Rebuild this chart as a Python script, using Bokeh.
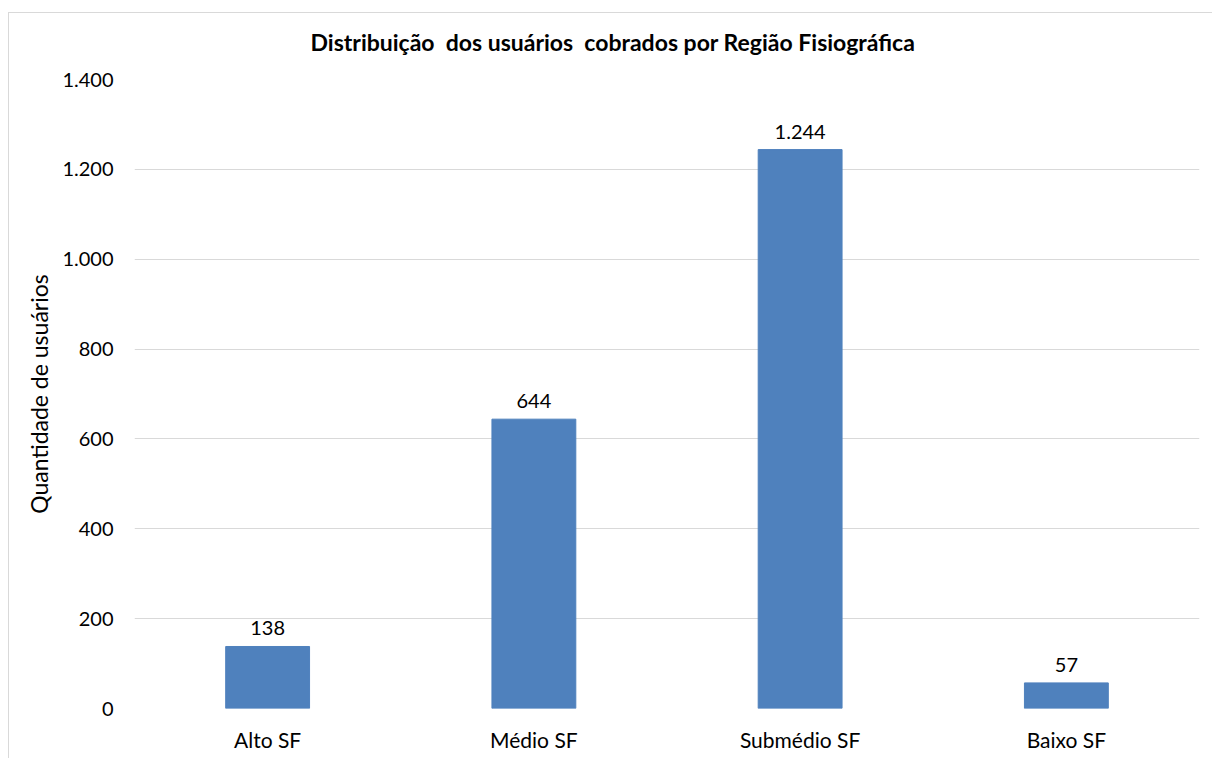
from bokeh.plotting import figure
from bokeh.models import ColumnDataSource, CustomJSTickFormatter, FixedTicker, Range1d, Title
from bokeh.embed import file_html
from bokeh.resources import INLINE

regions = ["Alto SF", "Médio SF", "Submédio SF", "Baixo SF"]
users = [138, 644, 1244, 57]
y_ticks = [0, 200, 400, 600, 800, 1000, 1200, 1400]

FONT = "Lato"
labels = [f"{v:,}".replace(",", ".") for v in users]
src = ColumnDataSource(dict(x=regions, top=users, label=labels))

NB = "\u00a0"
title_text = f"Distribuição {NB}dos usuários {NB}cobrados por Região Fisiográfica"

p = figure(x_range=regions, y_range=Range1d(0, 1400), width=1204, height=758,
           output_backend="svg", toolbar_location=None,
           min_border_left=126, min_border_right=13, min_border_top=79, min_border_bottom=50)
p.margin = (0, 0, 0, 8)
p.border_fill_color = None
p.background_fill_color = "white"
p.styles = {
    "background-color": "white",
    "background-image": "linear-gradient(#d9d9d9,#d9d9d9), linear-gradient(#d9d9d9,#d9d9d9)",
    "background-size": "100% 1px, 1px 100%",
    "background-position": "0 12px, 0 12px",
    "background-repeat": "no-repeat",
}

p.vbar(x="x", top="top", width=0.315, source=src, color="#4f81bd")
p.text(x="x", y="top", text="label", source=src, text_align="center", text_baseline="bottom",
       y_offset=-11, text_font_size="20px", text_color="#000000", text_font={"value": FONT})

title = Title(text=title_text, align="left", offset=176, standoff=48,
              text_font=FONT, text_font_size="23px", text_font_style="bold", text_color="#000000")
p.add_layout(title, "above")

p.outline_line_color = None
p.xgrid.grid_line_color = None
p.ygrid.grid_line_color = "#d9d9d9"
p.ygrid.grid_line_width = 1

p.yaxis.ticker = FixedTicker(ticks=y_ticks)
p.yaxis.formatter = CustomJSTickFormatter(code="return String(tick).replace(/\\B(?=(\\d{3})+(?!\\d))/g, '.');")
p.yaxis.axis_label = "Quantidade de usuários"
p.yaxis.axis_label_text_font = FONT
p.yaxis.axis_label_text_font_size = "23px"
p.yaxis.axis_label_text_font_style = "normal"
p.yaxis.axis_label_text_color = "#000000"
p.yaxis.axis_label_standoff = 6

for ax in (p.xaxis[0], p.yaxis[0]):
    ax.axis_line_color = None
    ax.major_tick_line_color = None
    ax.minor_tick_line_color = None
    ax.major_label_text_font = FONT
    ax.major_label_text_color = "#000000"
p.yaxis.major_label_text_font_size = "20px"
p.xaxis.major_label_text_font_size = "21px"
p.yaxis.major_label_standoff = 15
p.xaxis.major_label_standoff = 12

open("out.html", "w").write(file_html(p, INLINE))
